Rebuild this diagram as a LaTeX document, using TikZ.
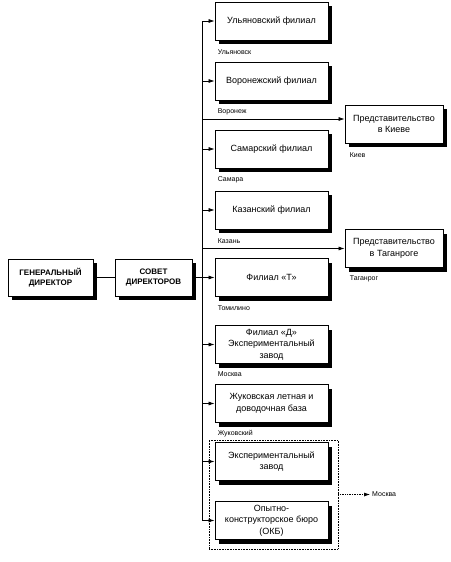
\documentclass[tikz,border=0pt]{standalone}
\usepackage{fontspec}
\setmainfont{Liberation Sans}
\usetikzlibrary{arrows.meta,shadows,positioning}

\begin{document}
\begin{tikzpicture}[x=1pt,y=-1pt,
  box/.style={draw,line width=0.8pt,fill=white,align=center,inner sep=1pt,
    font=\fontsize{9}{11.5}\selectfont,
    general shadow={fill=black,shadow xshift=4pt,shadow yshift=-4pt}},
  branch/.style={box,minimum width=113pt,minimum height=38pt},
  head/.style={box,minimum height=37pt,font=\bfseries\fontsize{8}{10}\selectfont},
  rep/.style={box,minimum width=98pt,minimum height=38pt},
  city/.style={font=\fontsize{7}{8}\selectfont,inner sep=0pt,anchor=west},
  arr/.style={-{Latex[length=6pt,width=4pt]},line width=0.7pt},
  group/.style={draw,densely dotted,line width=0.6pt,minimum width=129pt,minimum height=109pt}]
  \useasboundingbox (0,0) rectangle (450,562);
  % management
  \node[head,minimum width=85pt] (gen) at (50.5,277.5) {ГЕНЕРАЛЬНЫЙ\\ДИРЕКТОР};
  \node[head,minimum width=77pt] (sov) at (153.5,277.5) {СОВЕТ\\ДИРЕКТОРОВ};
  \draw[line width=0.7pt] (gen.east) -- (sov.east -| sov.west);
  % branches
  \node[branch] (uly) at (271.5,21) {Ульяновский филиал};
  \node[branch] (vor) at (271.5,81) {Воронежский филиал};
  \node[branch] (sam) at (271.5,149) {Самарский филиал};
  \node[branch] (kaz) at (271.5,210) {Казанский филиал};
  \node[branch] (tom) at (271.5,277.5) {Филиал «Т»};
  \node[branch] (dzav) at (271.5,344.5) {Филиал «Д»\\Экспериментальный\\завод};
  \node[branch] (zhuk) at (271.5,403.5) {Жуковская летная и\\доводочная база};
  \node[group] (grp) at (273.5,494.5) {};
  \node[branch] (ezav) at (271.5,461.5) {Экспериментальный\\завод};
  \node[branch] (okb) at (271.5,520.5) {Опытно-\\конструкторское бюро\\(ОКБ)};
  \node[city] (c-uly) at ([xshift=3pt,yshift=-12pt]uly.south west) {Ульяновск};
  \node[city] (c-vor) at ([xshift=3pt,yshift=-11.5pt]vor.south west) {Воронеж};
  \node[city] (c-sam) at ([xshift=3pt,yshift=-11.5pt]sam.south west) {Самара};
  \node[city] (c-kaz) at ([xshift=3pt,yshift=-11.5pt]kaz.south west) {Казань};
  \node[city] (c-tom) at ([xshift=3pt,yshift=-11.5pt]tom.south west) {Томилино};
  \node[city] (c-dzav) at ([xshift=3pt,yshift=-10pt]dzav.south west) {Москва};
  \node[city] (c-zhuk) at ([xshift=3pt,yshift=-11pt]zhuk.south west) {Жуковский};
  % representative offices
  \node[rep] (kiev) at (394,124) {Представительство\\в Киеве};
  \node[rep] (tag) at (394,248.5) {Представительство\\в Таганроге};
  \node[city] (c-kiev) at ([xshift=5pt,yshift=-12pt]kiev.south west) {Киев};
  \node[city] (c-tag) at ([xshift=5pt,yshift=-11pt]tag.south west) {Таганрог};
  % bus
  \coordinate (bus) at (202,0);
  \coordinate (kin) at (202,119);
  \draw[line width=0.7pt] (bus |- uly.west) -- (bus |- okb.west);
  \foreach \b in {uly,vor,sam,kaz,dzav,zhuk,ezav,okb}
    \draw[arr] (bus |- \b.west) -- (\b.west);
  \draw[arr] (sov.east) -- (tom.west);
  \draw[arr] (kin) -- (kin -| kiev.west);
  \draw[arr] (bus |- tag.west) -- (tag.west);
  % group in Moscow
  \coordinate (mos) at (370,494.5);
  \draw[arr,densely dotted,line width=0.6pt] (grp.east) -- (mos);
  \node[city] (c-grp) at ([xshift=2pt]mos) {Москва};
\end{tikzpicture}
\end{document}
